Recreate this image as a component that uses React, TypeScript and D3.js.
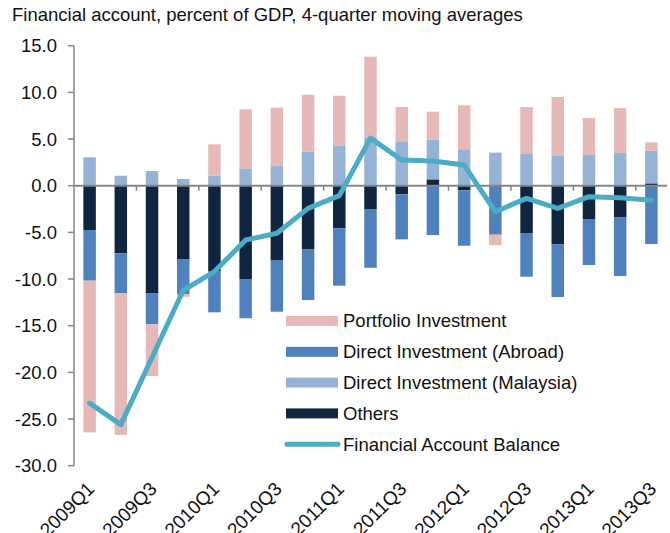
import React from "react";
import * as d3 from "d3";

const quarters = [
  "2009Q1","2009Q2","2009Q3","2009Q4",
  "2010Q1","2010Q2","2010Q3","2010Q4",
  "2011Q1","2011Q2","2011Q3","2011Q4",
  "2012Q1","2012Q2","2012Q3","2012Q4",
  "2013Q1","2013Q2","2013Q3",
];
const others = [-4.75, -7.25, -11.5, -7.86, -9.21, -10.0, -7.96, -6.79, -4.57, -2.5, -0.93, 0.68, -0.5, 0, -5.07, -6.29, -3.57, -3.36, 0.25];
const diAbroad = [-5.43, -4.25, -3.36, -3.78, -4.36, -4.2, -5.54, -5.46, -6.14, -6.29, -4.82, -5.29, -5.93, -5.25, -4.68, -5.64, -4.93, -6.32, -6.25];
const diMalaysia = [3.04, 1.07, 1.57, 0.71, 1.07, 1.86, 2.1, 3.64, 4.25, 5.2, 4.68, 4.25, 3.82, 3.54, 3.39, 3.25, 3.29, 3.5, 3.5];
const portfolio = [-16.25, -15.2, -5.54, -0.26, 3.36, 6.32, 6.26, 6.11, 5.39, 8.62, 3.75, 3.0, 4.79, -1.11, 5.04, 6.25, 3.96, 4.82, 0.89];
const balance = [-23.3, -25.6, -18.4, -11.2, -9.2, -5.82, -5.1, -2.43, -1.07, 5.1, 2.75, 2.64, 2.21, -2.79, -1.36, -2.43, -1.18, -1.29, -1.57];
const yTicks = [15, 10, 5, 0, -5, -10, -15, -20, -25, -30];
const xLabels = ["2009Q1","2009Q3","2010Q1","2010Q3","2011Q1","2011Q3","2012Q1","2012Q3","2013Q1","2013Q3"];

const title = "Financial account, percent of GDP, 4-quarter moving averages";
const keys = ["others", "diAbroad", "diMalaysia", "portfolio"];
const colors: Record<string, string> = {
  portfolio: "#E6B9B8",
  diAbroad: "#4F81BD",
  diMalaysia: "#95B3D7",
  others: "#10253F",
};
const lineColor = "#4BACC6";
const legendItems = [
  { key: "portfolio", label: "Portfolio Investment" },
  { key: "diAbroad", label: "Direct Investment (Abroad)" },
  { key: "diMalaysia", label: "Direct Investment (Malaysia)" },
  { key: "others", label: "Others" },
  { key: "line", label: "Financial Account Balance" },
];

const W = 670, H = 533;
const FONT = "'Liberation Sans', Arial, sans-serif";
const FS = 18.5;

export default function App() {
  const left = 74, right = 667, top = 45.7, bottom = 465.7;
  const x = d3.scaleBand<string>().domain(quarters).range([left, right]).paddingInner(0.6).paddingOuter(0.3);
  const y = d3.scaleLinear().domain([-30, 15]).range([bottom, top]);
  const rows = quarters.map((q, i) => ({
    q,
    others: others[i],
    diAbroad: diAbroad[i],
    diMalaysia: diMalaysia[i],
    portfolio: portfolio[i],
  }));
  const series = d3.stack<any>().keys(keys).offset(d3.stackOffsetDiverging)(rows);
  const step = x.step();
  const line = d3.line<number>()
    .x((_, i) => (x(quarters[i]) as number) + x.bandwidth() / 2)
    .y((d) => y(d));
  const boundaryTicks = d3.range(2, quarters.length, 2).map((k) => left + k * step);
  const axisColor = "#868686";

  return (
    <div style={{ position: "absolute", left: 0, top: 0 }}>
      <svg width={W} height={H} style={{ display: "block", background: "#fff" }} fontFamily={FONT}>
        <text x={12} y={21} fontSize={FS} fill="#111">{title}</text>
        {series.map((s) => (
          <g key={s.key} fill={colors[s.key]}>
            {s.map((d, i) => {
              const y0 = y(d[0]), y1 = y(d[1]);
              const h = Math.abs(y0 - y1);
              if (h <= 0) return null;
              return (
                <rect key={i} x={x(quarters[i])} width={x.bandwidth()} y={Math.min(y0, y1)} height={h} />
              );
            })}
          </g>
        ))}
        {/* y axis */}
        <line x1={left} x2={left} y1={y(15)} y2={y(-30)} stroke={axisColor} strokeWidth={1.5} />
        {yTicks.map((t) => (
          <g key={t}>
            <line x1={left - 6} x2={left} y1={y(t)} y2={y(t)} stroke={axisColor} strokeWidth={1.5} />
            <text x={57} y={y(t)} dy="0.35em" textAnchor="end" fontSize={FS} fill="#111">{t.toFixed(1)}</text>
          </g>
        ))}
        {/* zero line */}
        <line x1={left} x2={right} y1={y(0)} y2={y(0)} stroke={axisColor} strokeWidth={2} />
        {boundaryTicks.map((bx, i) => (
          <line key={i} x1={bx} x2={bx} y1={y(0)} y2={y(0) + 5} stroke={axisColor} strokeWidth={1.5} />
        ))}
        {/* x labels */}
        {xLabels.map((lab) => {
          const cx = (x(lab) as number) + x.bandwidth() / 2 + 6;
          const cy = 490;
          return (
            <text key={lab} x={cx} y={cy} textAnchor="end" fontSize={19} fill="#111" transform={`rotate(-45 ${cx} ${cy})`}>{lab}</text>
          );
        })}
        {/* balance line */}
        <path d={line(balance) || ""} fill="none" stroke={lineColor} strokeWidth={5} strokeLinejoin="round" strokeLinecap="round" />
        {/* legend */}
        {legendItems.map((it, i) => {
          const ly = 321 + i * 30.8;
          return (
            <g key={it.key}>
              {it.key === "line" ? (
                <line x1={287} x2={338} y1={ly} y2={ly} stroke={lineColor} strokeWidth={5} strokeLinecap="round" />
              ) : (
                <rect x={286} y={ly - 5} width={52} height={10} fill={colors[it.key]} />
              )}
              <text x={343} y={ly} dy="0.35em" fontSize={FS} fill="#111">{it.label}</text>
            </g>
          );
        })}
      </svg>
    </div>
  );
}
